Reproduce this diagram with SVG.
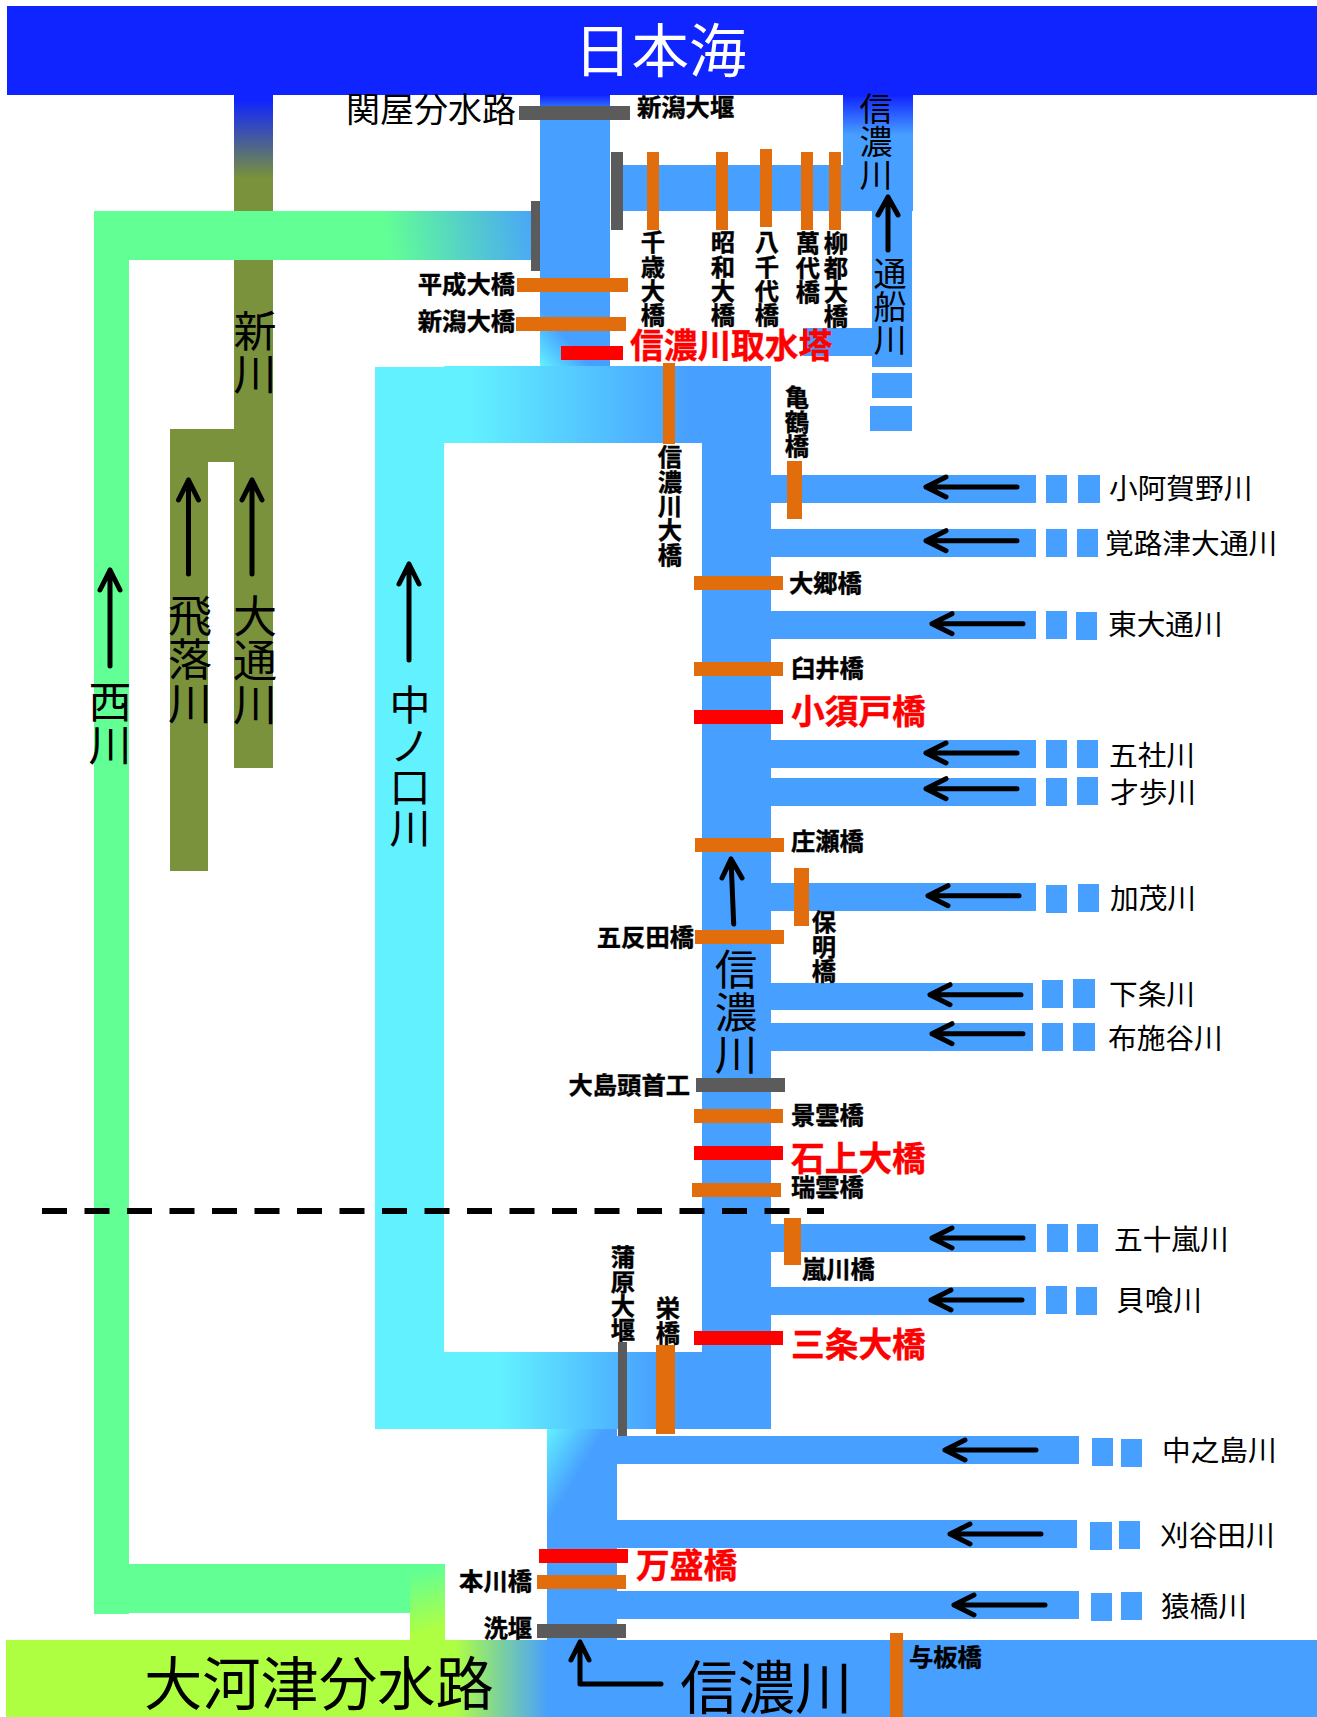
<svg xmlns="http://www.w3.org/2000/svg" width="1317" height="1717" viewBox="0 0 1317 1717">
<style>
text{font-family:"Noto Sans CJK JP","Noto Sans",sans-serif;fill:#000}
.w{fill:#479fff}.o{fill:#e26d0c}.g{fill:#5b5b5b}.r{fill:#f00}.c{fill:#62f1ff}.n{fill:#62ff94}.v{fill:#79923b}
.b{font-size:24.300px;font-weight:700;stroke:#000;stroke-width:.4px}
.e{text-anchor:end}
.l{font-size:28.700px}
.red{font-weight:700;fill:#f00;stroke:#f00;stroke-width:.4px;font-size:33.700px}
.t{writing-mode:vertical-rl}
.a{fill:none;stroke:#000;stroke-width:5;stroke-linecap:round;stroke-linejoin:round}
</style>
<defs>
<linearGradient id="gShin" gradientUnits="userSpaceOnUse" x1="0" y1="100" x2="0" y2="178"><stop offset="0" stop-color="#1024ff"/><stop offset="1" stop-color="#79923b"/></linearGradient>
<linearGradient id="gNishi" gradientUnits="userSpaceOnUse" x1="390" y1="262" x2="548" y2="236"><stop offset="0" stop-color="#62ff94"/><stop offset="1" stop-color="#479fff"/></linearGradient>
<linearGradient id="gTop1" gradientUnits="userSpaceOnUse" x1="0" y1="95" x2="0" y2="115"><stop offset="0" stop-color="#1024ff"/><stop offset="1" stop-color="#479fff"/></linearGradient>
<linearGradient id="gTop2" gradientUnits="userSpaceOnUse" x1="0" y1="95" x2="0" y2="135"><stop offset="0" stop-color="#1024ff"/><stop offset="1" stop-color="#479fff"/></linearGradient>
<linearGradient id="gLeftRiver" gradientUnits="userSpaceOnUse" x1="540" y1="366" x2="569" y2="341"><stop offset="0" stop-color="#62f1ff"/><stop offset="1" stop-color="#479fff"/></linearGradient>
<linearGradient id="gNakaTop" gradientUnits="userSpaceOnUse" x1="470" y1="0" x2="690" y2="0"><stop offset="0" stop-color="#62f1ff"/><stop offset="1" stop-color="#479fff"/></linearGradient>
<linearGradient id="gNakaBot" gradientUnits="userSpaceOnUse" x1="500" y1="0" x2="660" y2="0"><stop offset="0" stop-color="#62f1ff"/><stop offset="1" stop-color="#479fff"/></linearGradient>
<linearGradient id="gLow" gradientUnits="userSpaceOnUse" x1="547" y1="1429" x2="590" y2="1455"><stop offset="0" stop-color="#62f1ff"/><stop offset="1" stop-color="#479fff"/></linearGradient>
<linearGradient id="gLime" gradientUnits="userSpaceOnUse" x1="420" y1="1570" x2="435" y2="1630"><stop offset="0" stop-color="#62ff94"/><stop offset="1" stop-color="#aeff42"/></linearGradient>
<linearGradient id="gBottom" gradientUnits="userSpaceOnUse" x1="455" y1="0" x2="549" y2="0"><stop offset="0" stop-color="#aeff42"/><stop offset="1" stop-color="#479fff"/></linearGradient>
</defs>

<g id="shinkawa">
<rect x="234" y="95" width="39" height="673" fill="url(#gShin)"/>
<rect class="v" x="170" y="429" width="64" height="33"/>
<text x="255" y="309" class="t" font-size="43">新川</text>
</g>
<g id="hiochigawa">
<rect class="v" x="170" y="429" width="38" height="442"/>
<text x="190" y="593" class="t" font-size="44">飛落川</text>
</g>
<g id="otorigawa">
<text x="255" y="594" class="t" font-size="44">大通川</text>
</g>
<g id="nishikawa">
<rect x="94" y="211" width="437" height="49" fill="url(#gNishi)"/>
<rect class="n" x="94" y="211" width="35" height="1403"/>
<rect class="n" x="129" y="1564" width="281" height="49"/>
<rect x="410" y="1564" width="35" height="76" fill="url(#gLime)"/>
<text x="110" y="680" class="t" font-size="43">西川</text>
</g>
<g id="nakanokuchigawa">
<rect class="c" x="375" y="367" width="69" height="1062"/>
<rect x="444" y="366" width="327" height="77" fill="url(#gNakaTop)"/>
<rect x="444" y="1352" width="327" height="77" fill="url(#gNakaBot)"/>
<text x="410" y="684" class="t" font-size="41">中ノ口川</text>
</g>
<g id="sea">
<rect x="7" y="6" width="1310" height="89" fill="#1024ff"/>
<text x="574" y="72" font-size="57.500" style="fill:#fff">日本海</text>
</g>
<g id="shinano-lower-mouth">
<rect x="540" y="95" width="70" height="271" fill="url(#gLeftRiver)"/>
<rect x="540" y="95" width="70" height="20" fill="url(#gTop1)"/>
</g>
<g id="shinano-upper-mouth">
<rect x="843" y="95" width="70" height="95" fill="url(#gTop2)"/>
<rect class="w" x="611" y="165" width="302" height="46"/>
<text x="876" y="92" class="t" font-size="33">信濃川</text>
</g>
<g id="tsusengawa">
<rect class="w" x="872" y="190" width="40" height="177"/>
<rect class="w" x="803" y="328" width="69" height="28"/>
<rect class="w" x="872" y="373" width="40" height="25"/>
<rect class="w" x="870" y="406" width="42" height="25"/>
<text x="890" y="257" class="t" font-size="33">通船川</text>
</g>
<g id="shinanogawa">
<rect class="w" x="702" y="443" width="69" height="909"/>
<text x="736" y="948" class="t" font-size="42.500">信濃川</text>
</g>
<g id="shinano-lower">
<rect x="547" y="1429" width="70" height="211" fill="url(#gLow)"/>
</g>
<g id="bottom-channel">
<rect x="6" y="1640" width="1311" height="77" fill="url(#gBottom)"/>
<text x="144" y="1705" font-size="58.300">大河津分水路</text>
<text x="680" y="1709" font-size="57.500">信濃川</text>
</g>

<g id="koaganogawa"><rect class="w" x="771" y="475" width="265" height="28"/><rect class="w" x="1046" y="475" width="21" height="28"/><rect class="w" x="1078" y="475" width="22" height="28"/><text class="l" x="1109" y="498.500">小阿賀野川</text></g>
<g id="kakurozu"><rect class="w" x="771" y="529" width="265" height="28"/><rect class="w" x="1046" y="529" width="21" height="28"/><rect class="w" x="1077" y="529" width="21" height="28"/><text class="l" x="1105" y="553.500">覚路津大通川</text></g>
<g id="higashi"><rect class="w" x="771" y="611" width="265" height="28"/><rect class="w" x="1046" y="611" width="21" height="28"/><rect class="w" x="1076" y="612" width="21" height="28"/><text class="l" x="1108" y="635">東大通川</text></g>
<g id="gosha"><rect class="w" x="771" y="740" width="265" height="28"/><rect class="w" x="1046" y="740" width="21" height="28"/><rect class="w" x="1077" y="740" width="21" height="28"/><text class="l" x="1109" y="766">五社川</text></g>
<g id="saiho"><rect class="w" x="771" y="778" width="265" height="28"/><rect class="w" x="1046" y="778" width="21" height="28"/><rect class="w" x="1077" y="777" width="21" height="28"/><text class="l" x="1110" y="803">才歩川</text></g>
<g id="kamo"><rect class="w" x="771" y="883" width="265" height="28"/><rect class="w" x="1046" y="885" width="21" height="28"/><rect class="w" x="1078" y="884" width="21" height="28"/><text class="l" x="1110" y="909">加茂川</text></g>
<g id="gejo"><rect class="w" x="771" y="983" width="262" height="27"/><rect class="w" x="1042" y="980" width="21" height="28"/><rect class="w" x="1073" y="979" width="22" height="29"/><text class="l" x="1109" y="1005">下条川</text></g>
<g id="fuseya"><rect class="w" x="771" y="1023" width="262" height="28"/><rect class="w" x="1042" y="1023" width="21" height="28"/><rect class="w" x="1073" y="1023" width="22" height="28"/><text class="l" x="1108" y="1049">布施谷川</text></g>
<g id="igarashi"><rect class="w" x="771" y="1224" width="265" height="28"/><rect class="w" x="1047" y="1224" width="21" height="28"/><rect class="w" x="1077" y="1224" width="21" height="28"/><text class="l" x="1114" y="1250">五十嵐川</text></g>
<g id="kaibami"><rect class="w" x="771" y="1287" width="265" height="28"/><rect class="w" x="1046" y="1286" width="21" height="28"/><rect class="w" x="1076" y="1287" width="21" height="28"/><text class="l" x="1116" y="1311">貝喰川</text></g>
<g id="nakanoshima"><rect class="w" x="609" y="1436" width="470" height="28"/><rect class="w" x="1092" y="1438" width="21" height="28"/><rect class="w" x="1121" y="1439" width="21" height="28"/><text class="l" x="1162" y="1461">中之島川</text></g>
<g id="kariyata"><rect class="w" x="617" y="1520" width="460" height="28"/><rect class="w" x="1090" y="1522" width="22" height="28"/><rect class="w" x="1119" y="1521" width="21" height="28"/><text class="l" x="1160" y="1546">刈谷田川</text></g>
<g id="saruhashi"><rect class="w" x="617" y="1591" width="462" height="28"/><rect class="w" x="1091" y="1593" width="21" height="28"/><rect class="w" x="1121" y="1592" width="21" height="28"/><text class="l" x="1161" y="1617">猿橋川</text></g>

<g id="sekiya"><text x="346" y="121.500" font-size="34">関屋分水路</text></g>
<g id="niigata-weir"><rect class="g" x="519" y="106" width="111" height="14"/><text class="b" x="637" y="116">新潟大堰</text></g>
<g id="weir-a"><rect class="g" x="611" y="152" width="12" height="78"/></g>
<g id="weir-b"><rect class="g" x="531" y="201" width="9" height="70"/></g>
<g id="chitose"><rect class="o" x="647" y="152" width="12" height="78"/><text class="b t" x="653" y="230">千歳大橋</text></g>
<g id="showa"><rect class="o" x="716" y="152" width="12" height="78"/><text class="b t" x="723" y="230">昭和大橋</text></g>
<g id="yachiyo"><rect class="o" x="760" y="149" width="12" height="78"/><text class="b t" x="767" y="230">八千代橋</text></g>
<g id="bandai"><rect class="o" x="801" y="152" width="12" height="78"/><text class="b t" x="808" y="231">萬代橋</text></g>
<g id="ryuto"><rect class="o" x="829" y="152" width="12" height="78"/><text class="b t" x="836" y="231">柳都大橋</text></g>
<g id="heisei"><rect class="o" x="517" y="278" width="111" height="14"/><text class="b e" x="515" y="293">平成大橋</text></g>
<g id="niigata"><rect class="o" x="516" y="317" width="110" height="14"/><text class="b e" x="515" y="330">新潟大橋</text></g>
<g id="intake"><rect class="r" x="561" y="346" width="62" height="14"/><text class="red" x="630" y="358">信濃川取水塔</text></g>
<g id="shinano-ohashi"><rect class="o" x="663" y="363" width="12" height="81"/><text class="b t" x="670" y="445">信濃川大橋</text></g>
<g id="kikaku"><rect class="o" x="787" y="461" width="15" height="58"/><text class="b t" x="797" y="385">亀鶴橋</text></g>
<g id="ogo"><rect class="o" x="694" y="576" width="89" height="14"/><text class="b" x="789" y="592">大郷橋</text></g>
<g id="usui"><rect class="o" x="694" y="662" width="89" height="14"/><text class="b" x="791" y="677">臼井橋</text></g>
<g id="kosudo"><rect class="r" x="694" y="710" width="89" height="14"/><text class="red" x="791" y="724">小須戸橋</text></g>
<g id="shose"><rect class="o" x="695" y="838" width="89" height="14"/><text class="b" x="791" y="850">庄瀬橋</text></g>
<g id="homei"><rect class="o" x="794" y="868" width="15" height="58"/><text class="b t" x="824" y="910">保明橋</text></g>
<g id="gotanda"><rect class="o" x="695" y="930" width="89" height="14"/><text class="b e" x="694" y="946">五反田橋</text></g>
<g id="oshima"><rect class="g" x="696" y="1078" width="89" height="14"/><text class="b e" x="690" y="1094">大島頭首工</text></g>
<g id="keiun"><rect class="o" x="694" y="1109" width="89" height="14"/><text class="b" x="791" y="1124">景雲橋</text></g>
<g id="ishigami"><rect class="r" x="694" y="1146" width="89" height="14"/><text class="red" x="791" y="1171">石上大橋</text></g>
<g id="zuiun"><rect class="o" x="692" y="1183" width="89" height="14"/><text class="b" x="791" y="1196">瑞雲橋</text></g>
<g id="arashikawa"><rect class="o" x="784" y="1218" width="17" height="47"/><text class="b" x="802" y="1278">嵐川橋</text></g>
<g id="kambara"><rect class="g" x="618" y="1342" width="9" height="94"/><text class="b t" x="623" y="1245">蒲原大堰</text></g>
<g id="sakae"><rect class="o" x="656" y="1345" width="19" height="89"/><text class="b t" x="668" y="1296">栄橋</text></g>
<g id="sanjo"><rect class="r" x="694" y="1331" width="89" height="14"/><text class="red" x="791" y="1357">三条大橋</text></g>
<g id="mansei"><rect class="r" x="539" y="1549" width="89" height="14"/><text class="red" x="636" y="1578">万盛橋</text></g>
<g id="honkawa"><rect class="o" x="537" y="1575" width="89" height="14"/><text class="b e" x="532" y="1590">本川橋</text></g>
<g id="araizeki"><rect class="g" x="537" y="1624" width="89" height="14"/><text class="b e" x="532" y="1637">洗堰</text></g>
<g id="yoita"><rect class="o" x="890" y="1633" width="13" height="84"/><text class="b" x="909" y="1666">与板橋</text></g>

<g id="connectors">
<path d="M42 1211H824" fill="none" stroke="#000" stroke-width="6" stroke-dasharray="25 17.500"/>
<g class="a">
<path d="M110 666V570M100 590L110 570L120 590"/>
<path d="M188.500 574V480M178.500 500L188.500 480L198.500 500"/>
<path d="M252 574V480M242 500L252 480L262 500"/>
<path d="M409 660V564M399 584L409 564L419 584"/>
<path d="M888 250V197M878 215L888 197L898 215"/>
<path d="M733.700 924L731 859M722 878L731 859L742 878"/>
<path d="M661 1684H580V1642M571 1660L580 1642L589 1660"/>
<path d="M1017 487H926M946 477L926 487L946 497"/>
<path d="M1017 540.700H926M946 530.700L926 540.700L946 550.700"/>
<path d="M1023 623.700H932M952 613.700L932 623.700L952 633.700"/>
<path d="M1017 753H926M946 743L926 753L946 763"/>
<path d="M1017 788.700H926M946 778.700L926 788.700L946 798.700"/>
<path d="M1019 895.700H928M948 885.700L928 895.700L948 905.700"/>
<path d="M1021 994.700H930M950 984.700L930 994.700L950 1004.700"/>
<path d="M1023 1033.700H932M952 1023.700L932 1033.700L952 1043.700"/>
<path d="M1023 1238H932M952 1228L932 1238L952 1248"/>
<path d="M1022 1300H931M951 1290L931 1300L951 1310"/>
<path d="M1036 1450H945M965 1440L945 1450L965 1460"/>
<path d="M1041 1534H950M970 1524L950 1534L970 1544"/>
<path d="M1045 1605H954M974 1595L954 1605L974 1615"/>
</g>
</g>
</svg>
